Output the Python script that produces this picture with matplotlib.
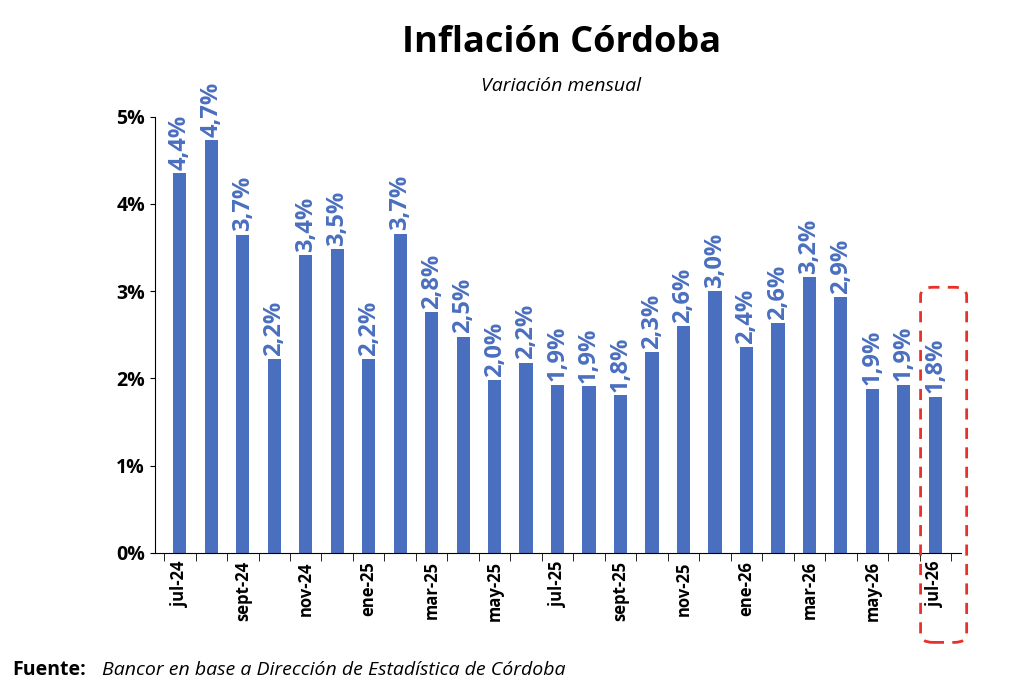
import matplotlib.pyplot as plt
from matplotlib.patches import FancyBboxPatch

months = ['jul-24', 'ago-24', 'sept-24', 'oct-24', 'nov-24', 'dic-24', 'ene-25', 'feb-25',
          'mar-25', 'abr-25', 'may-25', 'jun-25', 'jul-25', 'ago-25', 'sept-25', 'oct-25',
          'nov-25', 'dic-25', 'ene-26', 'feb-26', 'mar-26', 'abr-26', 'may-26', 'jun-26', 'jul-26']
values = [4.35, 4.73, 3.65, 2.22, 3.41, 3.48, 2.22, 3.66, 2.76, 2.48, 1.98, 2.18, 1.93,
          1.91, 1.81, 2.30, 2.60, 3.00, 2.36, 2.63, 3.16, 2.93, 1.88, 1.93, 1.79]
labels = ['4,4%', '4,7%', '3,7%', '2,2%', '3,4%', '3,5%', '2,2%', '3,7%', '2,8%', '2,5%',
          '2,0%', '2,2%', '1,9%', '1,9%', '1,8%', '2,3%', '2,6%', '3,0%', '2,4%', '2,6%',
          '3,2%', '2,9%', '1,9%', '1,9%', '1,8%']

plt.rcParams['font.family'] = ['Open Sans', 'DejaVu Sans']
blue = '#4A6FBF'

fig = plt.figure(figsize=(10.24, 6.99), dpi=100)
ax = fig.add_axes([0.151, 0.209, 0.787, 0.624])
x = list(range(len(values)))
ax.bar(x, values, width=0.42, color=blue)
for xi, v, t in zip(x, values, labels):
    ax.text(xi, v + 0.04, t, rotation=90, ha='center', va='bottom',
            fontsize=17, fontweight='bold', color=blue)

ax.set_xlim(-0.8, len(values) - 0.2)
ax.set_ylim(0, 5)
ax.set_yticks([0, 1, 2, 3, 4, 5])
ax.set_yticklabels([f'{i}%' for i in range(6)], fontsize=14, fontweight='bold')
ax.set_xticks(x[::2])
ax.set_xticklabels(months[::2], rotation=90, fontsize=12, fontweight='bold')
ax.set_xticks([i + 0.5 for i in range(-1, len(values))], minor=True)
ax.tick_params(axis='x', which='major', length=0, pad=6)
ax.tick_params(axis='x', which='minor', length=6)
for s in ['top', 'right']:
    ax.spines[s].set_visible(False)

fig.text(0.548, 0.925, 'Inflación Córdoba', ha='center', fontsize=26, fontweight='bold')
fig.text(0.548, 0.87, 'Variación mensual', ha='center', fontsize=14, style='italic')
fig.text(0.012, 0.035, 'Fuente:', fontsize=14, fontweight='bold')
fig.text(0.1, 0.035, 'Bancor en base a Dirección de Estadística de Córdoba', fontsize=14, style='italic')

box = FancyBboxPatch((0.903, 0.085), 0.037, 0.50, boxstyle='round,pad=0.004,rounding_size=0.012',
                     transform=fig.transFigure, fill=False, edgecolor='#E8312A',
                     linestyle=(0, (4, 3)), linewidth=2)
fig.patches.append(box)

fig.savefig('out.png', dpi=100)
